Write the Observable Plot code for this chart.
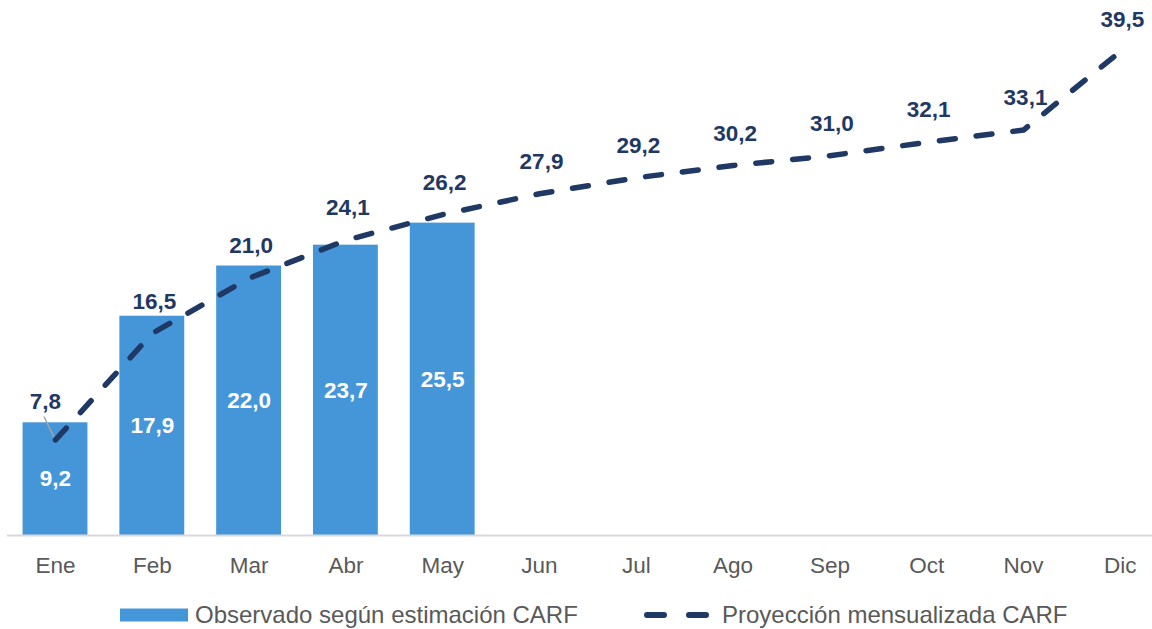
<!DOCTYPE html>
<html>
<head>
<meta charset="utf-8">
<script src="https://cdn.jsdelivr.net/npm/d3@7"></script>
<script src="https://cdn.jsdelivr.net/npm/@observablehq/plot@0.6"></script>
<style>
  html, body { margin: 0; padding: 0; background: #fff; }
  body { font-family: "Liberation Sans", Arial, sans-serif; width: 1152px; }
  #legend { position: relative; width: 1152px; height: 34px; color: #595959; font-size: 24px; }
  #legend .item { position: absolute; top: 3px; height: 34px; display: flex; align-items: center; }
  #legend svg { display: block; }
</style>
</head>
<body>
<div id="chart"></div>
<div id="legend">
  <div class="item" style="left:120px">
    <svg width="68" height="14"><rect x="0" y="0.5" width="68" height="13" fill="#4596d8"></rect></svg>
    <span style="margin-left:7px">Observado según estimación CARF</span>
  </div>
  <div class="item" style="left:641px">
    <svg width="72" height="14"><line x1="6" y1="7" x2="68" y2="7" stroke="#1f3864" stroke-width="6" stroke-linecap="round" stroke-dasharray="17,25"></line></svg>
    <span style="margin-left:9px">Proyección mensualizada CARF</span>
  </div>
</div>
<script>
const months = ["Ene","Feb","Mar","Abr","May","Jun","Jul","Ago","Sep","Oct","Nov","Dic"];
const observedMonths = ["Ene","Feb","Mar","Abr","May"];
const observedValues = [9.2, 17.9, 22.0, 23.7, 25.5];
const projectedValues = [7.8, 16.5, 21.0, 24.1, 26.2, 27.9, 29.2, 30.2, 31.0, 32.1, 33.1, 39.5];

const observed = observedMonths.map((m, i) => ({month: m, value: observedValues[i]}));
const projected = months.map((m, i) => ({month: m, value: projectedValues[i]}));
const fmt = v => v.toFixed(1).replace(".", ",");

const barColor = "#4596d8";
const lineColor = "#1f3864";

const firstPoint = projected.slice(0, 1);
const otherPoints = projected.slice(1);

// leader line from the first projection label to its point
function leader(index, scales, values, dims, context) {
  const g = d3.create("svg:g");
  for (const i of index) {
    const x = values.x1[i] + scales.x.bandwidth() / 2;
    const y = values.y1[i];
    g.append("line")
      .attr("x1", x).attr("y1", y)
      .attr("x2", x - 11).attr("y2", y - 23)
      .attr("stroke", "#a6a6a6").attr("stroke-width", 1.5);
  }
  return g.node();
}

const chart = Plot.plot({
  width: 1152,
  height: 595,
  marginLeft: 7,
  marginRight: 0,
  marginTop: 0,
  marginBottom: 60,
  style: {fontFamily: "'Liberation Sans', Arial, sans-serif", background: "#fff"},
  x: {domain: months, range: [6.6, 1168.2], paddingInner: 0.33, paddingOuter: 0.165, round: false, label: null},
  y: {domain: [0, 40], range: [535, 45], axis: null},
  marks: [
    Plot.barY(observed, {x: "month", y: "value", fill: barColor}),
    Plot.ruleY([0], {stroke: "#d9d9d9", strokeWidth: 2}),
    Plot.axisX({tickSize: 0, tickPadding: 22, fontSize: 22.5, color: "#595959", label: null}),
    Plot.link(firstPoint, {x1: "month", y1: "value", x2: "month", y2: "value", render: leader}),
    Plot.lineY(projected, {x: "month", y: "value", stroke: lineColor, strokeWidth: 5.5, strokeDasharray: "16,21", strokeLinecap: "round"}),
    Plot.text(observed, {x: "month", y: d => d.value / 2, text: d => fmt(d.value), fill: "white", fontSize: 22.5, fontWeight: "bold"}),
    Plot.text(otherPoints, {x: "month", y: "value", text: d => fmt(d.value), fill: lineColor, fontSize: 22.5, fontWeight: "bold", dy: -32, dx: 2}),
    Plot.text(firstPoint, {x: "month", y: "value", text: d => fmt(d.value), fill: lineColor, fontSize: 22.5, fontWeight: "bold", dy: -38, dx: -10})
  ]
});
document.getElementById("chart").append(chart);
</script>
</body>
</html>
